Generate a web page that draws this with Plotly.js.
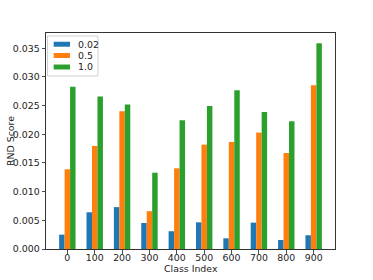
<!DOCTYPE html>
<html>
<head>
<meta charset="utf-8">
<script src="https://cdn.plot.ly/plotly-3.0.1.min.js"></script>
<style>html,body{margin:0;padding:0;background:#fff;}#chart{width:373px;height:280px;}</style>
</head>
<body>
<div id="chart"></div>
<script>
const classIndex = [0, 1, 2, 3, 4, 5, 6, 7, 8, 9];
const tickLabels = ["0", "100", "200", "300", "400", "500", "600", "700", "800", "900"];
const seriesNames = ["0.02", "0.5", "1.0"];
const s002 = [0.0025, 0.0064, 0.0073, 0.00453, 0.0031, 0.00465, 0.00186, 0.0046, 0.00157, 0.0024];
const s05 = [0.0139, 0.01797, 0.0240, 0.0066, 0.01407, 0.0182, 0.01866, 0.0203, 0.01674, 0.02855];
const s10 = [0.0283, 0.0266, 0.0252, 0.0133, 0.02244, 0.02494, 0.02767, 0.0239, 0.02227, 0.03587];
const colors = ["#1f77b4", "#ff7f0e", "#2ca02c"];
const xTitle = "Class Index";
const yTitle = "RND Score";

const allSeries = [s002, s05, s10];
const traces = allSeries.map((vals, i) => ({
  type: "bar",
  x: classIndex,
  y: vals,
  name: seriesNames[i],
  marker: {color: colors[i], line: {width: 0}},
  hoverinfo: "none",
  showlegend: false
}));

const font = {family: "DejaVu Sans", size: 9.4, color: "#222"};

// manual matplotlib-style legend (paper coordinates)
const legendRowY = [0.948, 0.8958, 0.8426];
const shapes = [{
  type: "rect", xref: "paper", yref: "paper",
  x0: 0.0052, x1: 0.18, y0: 0.801, y1: 0.986,
  line: {color: "#d0d0d0", width: 1}, fillcolor: "rgba(255,255,255,0.8)", layer: "above"
}];
const annotations = [];
seriesNames.forEach((nm, i) => {
  shapes.push({
    type: "rect", xref: "paper", yref: "paper",
    x0: 0.0266, x1: 0.083, y0: legendRowY[i] - 0.0115, y1: legendRowY[i] + 0.0115,
    line: {width: 0}, fillcolor: colors[i], layer: "above"
  });
  annotations.push({
    xref: "paper", yref: "paper", x: 0.105, y: legendRowY[i],
    xanchor: "left", yanchor: "middle", showarrow: false, text: nm, font: font
  });
});
// axis titles
annotations.push({
  xref: "paper", yref: "paper", x: 0.5, y: -0.09, xanchor: "center", yanchor: "middle",
  showarrow: false, text: xTitle, font: font
});
annotations.push({
  xref: "paper", yref: "paper", x: -0.1246, y: 0.5, xanchor: "center", yanchor: "middle",
  showarrow: false, text: yTitle, textangle: -90, font: font
});

const maxVal = Math.max(...s10, ...s05, ...s002);
const layout = {
  width: 373, height: 280,
  margin: {l: 46, r: 38, t: 33, b: 31, pad: 0},
  paper_bgcolor: "#fff", plot_bgcolor: "#fff",
  barmode: "group", bargap: 0.4, bargroupgap: 0,
  showlegend: false,
  font: font,
  shapes: shapes,
  annotations: annotations,
  xaxis: {
    range: [-0.78, 9.78],
    tickvals: classIndex, ticktext: tickLabels,
    ticks: "outside", ticklen: 3.5, tickwidth: 0.8, tickcolor: "#222",
    ticklabelstandoff: -4,
    showline: true, linecolor: "#333", linewidth: 1, mirror: true,
    showgrid: false, zeroline: false,
    tickfont: font
  },
  yaxis: {
    range: [0, maxVal * 1.05],
    tickvals: [0, 0.005, 0.01, 0.015, 0.02, 0.025, 0.03, 0.035],
    tickformat: ".3f",
    ticks: "outside", ticklen: 3.5, tickwidth: 0.8, tickcolor: "#222",
    showline: true, linecolor: "#333", linewidth: 1, mirror: true,
    showgrid: false, zeroline: false,
    tickfont: font
  }
};
Plotly.newPlot("chart", traces, layout, {staticPlot: true, displayModeBar: false});
</script>
</body>
</html>
